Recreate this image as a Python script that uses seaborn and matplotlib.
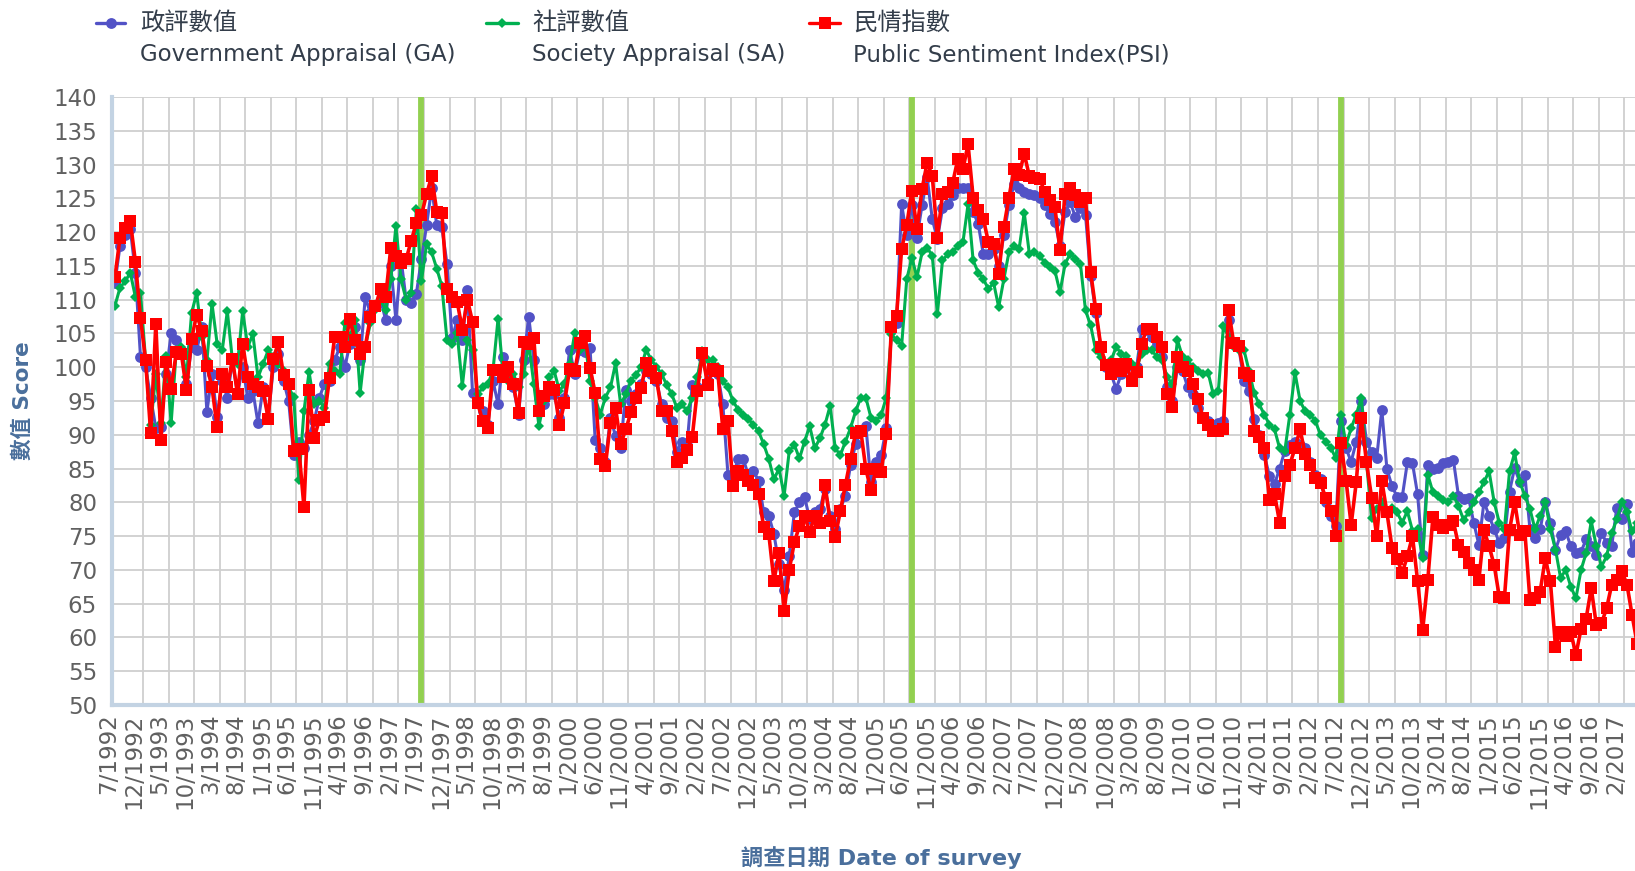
import numpy as np
import pandas as pd
import matplotlib
matplotlib.use("Agg")
import matplotlib.pyplot as plt
import matplotlib.transforms as mtrans
from matplotlib.lines import Line2D
import seaborn as sns

# ---------------- data (monthly, starting 7/1992) ----------------
start_year, start_month = 1992, 7

psi = [
    113.4, 119.2, 120.6, 121.7, 115.6, 107.3, 101.0, 90.2, 106.4, 89.2,
    100.7, 96.8, 102.2, 102.0, 96.6, 104.2, 107.8, 105.4, 100.2, 97.0,
    91.2, 99.0, 97.0, 101.2, 96.0, 103.5, 98.5, 97.5, 97.0, 96.5,
    92.4, 101.2, 103.7, 98.8, 97.5, 87.6, 87.9, 79.3, 96.6, 89.5,
    92.2, 92.6, 98.4, 104.4, 104.5, 103.0, 107.2, 104.0, 102.0, 103.0,
    107.5, 109.0, 111.6, 110.4, 117.7, 116.5, 115.5, 116.0, 118.7, 121.4,
    122.5, 125.6, 128.3, 123.0, 122.9, 111.6, 110.4, 109.7, 105.5, 110.0,
    106.7, 94.7, 92.0, 91.0, 99.6, 99.6, 98.5, 100.0, 97.5, 93.2,
    103.8, 103.5, 104.3, 93.5, 95.7, 97.0, 96.7, 91.5, 94.7, 99.7,
    99.4, 103.6, 104.6, 99.9, 96.2, 86.4, 85.4, 91.8, 94.0, 88.6,
    90.8, 93.3, 95.5, 96.9, 100.6, 99.5, 98.4, 93.5, 93.5, 90.5,
    85.9, 86.6, 87.8, 89.6, 96.5, 102.1, 97.4, 99.7, 99.4, 90.8,
    92.0, 82.4, 84.6, 84.1, 83.2, 82.5, 81.2, 76.3, 75.3, 68.4,
    72.5, 63.9, 70.0, 74.1, 76.5, 78.0, 75.6, 78.0, 77.0, 82.6,
    77.2, 74.9, 78.7, 82.6, 86.4, 90.3, 90.6, 84.9, 81.8, 84.9,
    84.5, 90.1, 105.9, 107.6, 117.5, 121.0, 126.1, 120.4, 126.4, 130.3,
    128.3, 119.2, 125.6, 125.9, 127.3, 130.8, 129.3, 133.0, 125.1, 123.2,
    121.9, 118.5, 118.3, 113.8, 120.7, 125.1, 129.3, 128.5, 131.6, 128.3,
    128.0, 127.9, 126.0, 124.7, 123.7, 117.3, 125.6, 126.6, 125.5, 124.4,
    125.1, 114.1, 108.6, 103.0, 100.3, 99.0, 100.5, 99.5, 100.5, 98.0,
    99.3, 103.5, 105.7, 105.7, 104.5, 103.0, 96.1, 94.1, 101.5, 100.0,
    99.4, 97.5, 95.3, 92.5, 91.5, 90.5, 90.5, 90.8, 108.5, 103.6,
    103.1, 99.2, 98.7, 90.5, 89.6, 88.0, 80.4, 81.2, 77.0, 83.9,
    85.6, 88.0, 90.8, 87.1, 85.5, 83.6, 82.9, 80.7, 78.7, 75.0,
    88.8, 83.2, 76.7, 83.0, 92.5, 85.9, 80.7, 75.0, 83.2, 78.5,
    73.3, 71.6, 69.6, 72.0, 75.0, 68.4, 61.1, 68.5, 77.8, 76.7,
    76.2, 76.7, 77.2, 73.7, 72.7, 71.0, 70.0, 68.5, 75.9, 73.5,
    70.7, 66.0, 65.8, 75.9, 80.1, 75.2, 75.7, 65.5, 65.8, 66.8,
    71.7, 68.3, 58.6, 60.8, 60.2, 60.8, 57.4, 61.3, 62.8, 67.3,
    61.8, 62.1, 64.3, 67.8, 68.5, 69.8, 67.8, 63.3, 59.0, 62.0,
]

ga = [
    112.5, 118.0, 119.5, 120.5, 114.0, 101.5, 100.0, 95.5, 91.0, 91.2,
    99.0, 105.0, 104.0, 102.5, 97.5, 103.0, 102.5, 106.0, 93.4, 99.0,
    92.6, 98.0, 95.5, 101.0, 96.0, 100.0, 95.5, 96.5, 91.7, 97.0,
    92.5, 100.0, 102.0, 98.0, 95.0, 87.0, 89.0, 88.0, 90.0, 92.0,
    95.5, 97.5, 98.0, 101.0, 103.0, 100.0, 103.5, 106.0, 101.0, 110.4,
    108.0, 109.0, 110.0, 107.0, 115.0, 107.0, 116.0, 110.0, 109.5, 110.9,
    116.0, 121.0, 126.5, 121.0, 120.7, 115.3, 104.3, 107.0, 104.0, 111.4,
    96.2, 95.0, 93.5, 91.5, 98.0, 94.5, 101.5, 99.0, 97.0, 93.0,
    101.0, 107.5, 101.0, 95.5, 94.5, 96.0, 96.0, 92.5, 95.5, 102.6,
    99.0, 102.5, 102.2, 102.9, 89.3, 88.0, 86.0, 92.5, 89.8, 88.0,
    96.7, 95.0, 96.0, 97.5, 99.5, 99.0, 98.0, 94.5, 92.5, 92.0,
    87.5, 89.0, 88.5, 97.4, 97.0, 101.5, 98.0, 100.0, 99.0, 94.5,
    84.1, 84.0, 86.4, 86.4, 84.0, 84.6, 83.2, 78.5, 78.0, 75.3,
    70.8, 67.0, 72.0, 78.5, 80.0, 80.8, 77.5, 78.5, 79.0, 82.0,
    78.0, 76.0, 79.0, 81.0, 85.5, 88.6, 90.5, 91.3, 83.0, 86.0,
    87.0, 91.0, 105.5, 106.5, 124.1, 119.5, 124.0, 119.2, 124.0, 128.1,
    121.9, 119.0, 123.5, 124.1, 125.5, 126.6, 126.5, 126.6, 123.0, 121.2,
    116.7, 116.8, 117.5, 115.0, 119.5, 124.0, 127.1, 126.6, 126.0, 125.6,
    125.5, 125.1, 124.0, 122.7, 121.5, 118.0, 123.0, 124.5, 122.2, 123.5,
    122.5, 113.5, 108.0, 103.0, 100.0, 99.0, 96.8, 99.0, 100.0, 98.0,
    100.0, 105.7, 105.5, 104.5, 103.5, 101.5, 97.1, 95.0, 100.0, 99.5,
    97.0, 96.0, 94.0, 92.5, 92.0, 91.5, 91.8, 92.0, 107.0, 103.5,
    103.0, 97.9, 96.5, 92.3, 90.0, 87.0, 83.9, 82.7, 85.0, 87.6,
    88.5, 89.0, 88.5, 88.1, 86.0, 84.0, 83.5, 80.0, 78.0, 76.5,
    92.0, 88.0, 86.0, 89.0, 95.0, 89.0, 87.5, 86.6, 93.7, 84.9,
    82.4, 80.8, 80.8, 85.9, 85.8, 81.2, 72.2, 85.6, 85.0, 85.1,
    85.8, 86.0, 86.3, 81.0, 80.5, 80.6, 77.0, 73.7, 80.1, 78.0,
    76.0, 74.0, 74.7, 81.6, 85.1, 83.0, 84.1, 76.0, 74.7, 76.0,
    80.1, 77.0, 73.0, 75.2, 75.7, 73.5, 72.5, 72.7, 74.5, 73.5,
    72.2, 75.5, 74.0, 73.5, 79.2, 77.5, 79.7, 72.7, 74.0, 73.0,
]

sa = [
    109.1, 111.8, 112.7, 114.0, 110.4, 111.0, 101.0, 91.4, 99.0, 91.7,
    101.7, 91.7, 102.5, 103.0, 98.5, 108.0, 111.0, 104.5, 101.0, 109.4,
    103.5, 102.5, 108.3, 101.0, 100.5, 108.3, 103.0, 104.9, 98.5, 100.5,
    102.5, 101.5, 100.5, 99.5, 97.0, 95.6, 83.3, 93.5, 99.3, 94.5,
    95.0, 94.0, 100.5, 99.5, 99.0, 106.5, 104.5, 107.0, 96.2, 103.0,
    106.5, 108.5, 110.0, 108.5, 113.0, 120.9, 113.0, 110.0, 111.0, 123.4,
    112.8, 118.2, 117.0, 114.6, 112.0, 104.0, 103.5, 105.0, 97.2, 104.0,
    102.5, 96.0, 97.0, 97.5, 99.5, 107.2, 99.0, 98.0, 99.0, 97.0,
    99.0, 103.5, 97.5, 91.3, 95.0, 98.5, 99.4, 96.5, 97.5, 100.5,
    105.0, 102.5, 104.0, 98.0, 95.5, 93.0, 95.5, 97.0, 100.6, 94.5,
    96.0, 98.0, 98.9, 100.0, 102.6, 101.0, 100.1, 99.0, 97.4, 96.0,
    94.0, 94.5, 93.5, 95.5, 98.5, 102.4, 101.0, 101.1, 100.0, 98.0,
    97.0, 95.0, 93.7, 93.0, 92.3, 91.5, 90.5, 88.6, 86.4, 83.4,
    85.0, 81.0, 87.6, 88.5, 86.5, 89.0, 91.3, 88.0, 89.5, 91.5,
    94.3, 88.0, 87.0, 89.0, 91.0, 93.5, 95.5, 95.5, 92.5, 92.0,
    93.0, 95.5, 104.9, 104.0, 103.2, 113.0, 116.2, 113.3, 117.0, 117.7,
    116.5, 107.9, 115.8, 116.7, 117.0, 118.0, 118.5, 124.1, 115.8, 114.0,
    113.0, 111.6, 112.5, 108.9, 113.0, 117.0, 118.0, 117.5, 122.9, 116.8,
    117.0, 116.5, 115.5, 114.8, 114.3, 111.1, 115.3, 116.8, 116.0, 115.3,
    108.4, 106.2, 102.5, 101.5, 100.5, 101.0, 103.0, 102.0, 101.7, 100.5,
    100.0, 102.0, 102.5, 102.5, 101.5, 101.0, 98.5, 97.5, 104.0, 101.5,
    101.1, 100.0, 99.5, 99.0, 99.2, 96.0, 96.5, 106.1, 104.5, 103.0,
    102.5, 102.6, 99.5, 96.2, 94.5, 93.0, 91.5, 90.8, 88.0, 87.6,
    93.0, 99.2, 95.0, 93.5, 93.0, 92.0, 90.0, 89.0, 88.1, 86.5,
    93.0, 88.5, 91.0, 93.0, 95.5, 86.0, 77.7, 79.0, 80.0, 78.5,
    79.2, 78.5, 77.0, 78.7, 75.8, 76.0, 71.7, 84.1, 81.5, 81.0,
    80.4, 80.0, 81.0, 79.5, 77.4, 78.5, 80.0, 81.5, 83.0, 84.6,
    80.0, 77.0, 76.0, 84.6, 87.3, 83.0, 81.0, 79.0, 76.0, 78.0,
    80.1, 76.0, 73.0, 68.8, 70.0, 67.5, 65.8, 70.0, 72.5, 77.2,
    73.5, 70.5, 72.0, 75.4, 77.5, 80.1, 78.5, 75.7, 77.0, 76.0,
]

# milestone months (category index): 7/1997, 7/2005, 7/2012
milestones = [60, 156, 240]

legend_cn = ["政評數值", "社評數值", "民情指數"]
legend_en = ["Government Appraisal (GA)", "Society Appraisal (SA)", "Public Sentiment Index(PSI)"]
y_title = "數值 Score"
x_title = "調查日期 Date of survey"

# ---------------- styling ----------------
sns.set_style("white")
plt.rcParams["font.family"] = ["DejaVu Sans", "Noto Sans CJK TC"]
CJK = ["Noto Sans CJK TC", "DejaVu Sans"]

c_ga, c_sa, c_psi = "#5252c6", "#00b050", "#ff0000"
W, H = 1635, 871

fig = plt.figure(figsize=(W / 100, H / 100), dpi=100)
ax_left, ax_right, ax_top, ax_bot = 112.4, 1650.0, 97.0, 705.0
ax = fig.add_axes([ax_left / W, 1 - ax_bot / H, (ax_right - ax_left) / W, (ax_bot - ax_top) / H])

n = len(psi)
df = pd.DataFrame({"idx": np.arange(n), "GA": ga, "SA": sa, "PSI": psi})

for m in milestones:
    ax.axvline(m, color="#92d050", lw=4.2, zorder=1.5)

series = [
    ("GA", c_ga, "o", 7.8, 2.2, 2.0),
    ("SA", c_sa, "D", 5.5, 2.2, 2.1),
    ("PSI", c_psi, "s", 8.8, 2.6, 2.2),
]
for col, color, mk, ms, lw, z in series:
    sns.lineplot(data=df, x="idx", y=col, ax=ax, color=color, marker=mk,
                 markersize=ms, markeredgewidth=0, linewidth=lw, zorder=z,
                 legend=False)

ax.set_xlim(-0.5, 300.5)
ax.set_ylim(50, 140)
ax.set_xlabel("")
ax.set_ylabel("")

# x ticks: one label every 5 months, grid lines between categories
tick_idx = list(range(0, 300, 5))
labels = []
for k in tick_idx:
    mm = (start_month - 1 + k) % 12 + 1
    yy = start_year + (start_month - 1 + k) // 12
    labels.append(f"{mm}/{yy}")
ax.set_xticks([k + 0.5 for k in tick_idx])
ax.set_xticklabels(labels, rotation=90, fontsize=16.5, color="#606060")

ax.set_yticks(np.arange(50, 141, 5))
ax.set_yticklabels([str(v) for v in range(50, 141, 5)], fontsize=16.5, color="#606060")
ax.tick_params(axis="both", length=0)
ax.tick_params(axis="y", pad=11)
ax.tick_params(axis="x", pad=6)

# shift rotated x labels slightly left of their grid line (after tick_params)
offset = mtrans.ScaledTranslation(-9 / 100, 0, fig.dpi_scale_trans)
for lbl in ax.get_xticklabels():
    lbl.set_transform(lbl.get_transform() + offset)
    lbl.set_va("top")
    lbl.set_ha("center")

ax.set_axisbelow(True)
ax.grid(True, color="#cfcfcf", lw=1.3)
ax.get_xgridlines()[0].set_visible(False)

for s in ["top", "right"]:
    ax.spines[s].set_visible(False)
for s in ["left", "bottom"]:
    ax.spines[s].set_color("#c3d3e3")
    ax.spines[s].set_linewidth(3.0)

# axis titles
fig.text(23 / W, 1 - 401 / H, y_title, rotation=90, ha="center", va="center",
         fontsize=15.5, fontweight="bold", color="#4a6f9c")
fig.text(881 / W, 1 - 858 / H, x_title, ha="center", va="center",
         fontsize=16, fontweight="bold", color="#4a6f9c")

# legend (two-line labels)
leg_items = [
    (c_ga, "o", 7.8, 96, 125, 140),
    (c_sa, "D", 5.5, 486, 518, 532),
    (c_psi, "s", 8.8, 809, 840, 853),
]
for i, (color, mk, ms, x0, x1, xt) in enumerate(leg_items):
    yl = 1 - 23 / H
    fig.add_artist(Line2D([x0 / W, x1 / W], [yl, yl], transform=fig.transFigure,
                          color=color, lw=2.4))
    fig.add_artist(Line2D([(x0 + x1) / 2 / W], [yl], transform=fig.transFigure,
                          color=color, marker=mk, markersize=ms, markeredgewidth=0))
    fig.text(xt / W, yl, legend_cn[i], ha="left", va="center", fontsize=17.5,
             color="#333d4a", family=CJK)
    fig.text(xt / W, 1 - 55 / H, legend_en[i], ha="left", va="center", fontsize=16.5,
             color="#333d4a")

fig.savefig("out.png", dpi=100)
